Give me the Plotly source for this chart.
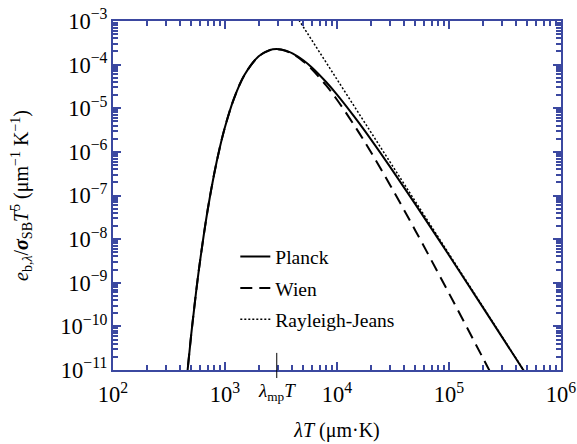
import plotly.graph_objects as go

# lambda*T values (um K) and log10 of normalized emissive power e_b,lambda/(sigma T^5)
planck_x = [450, 500, 550, 600, 700, 800, 900, 1000, 1200, 1500, 2000, 2500, 2898, 3500,
            4000, 5000, 6000, 8000, 10000, 15000, 20000, 30000, 50000, 100000, 200000, 500000]
planck_log = [-11.332, -10.172, -9.243, -8.486, -7.333, -6.507, -5.895, -5.429, -4.784, -4.227,
              -3.810, -3.668, -3.644, -3.679, -3.741, -3.900, -4.071, -4.399, -4.688, -5.268,
              -5.708, -6.355, -7.198, -8.370, -9.558, -11.141]

wien_x = [450, 500, 550, 600, 700, 800, 900, 1000, 1200, 1500, 2000, 2500, 2898, 3500,
          4000, 5000, 6000, 8000, 10000, 15000, 20000, 30000, 50000, 100000, 200000, 300000]
wien_log = [-11.332, -10.172, -9.243, -8.486, -7.333, -6.507, -5.895, -5.429, -4.784, -4.227,
            -3.810, -3.670, -3.647, -3.686, -3.753, -3.925, -4.113, -4.477, -4.805, -5.478,
            -5.998, -6.774, -7.800, -9.243, -10.717, -11.587]

rj_x = [4000, 10000, 100000, 1000000]
rj_log = [-2.747, -4.339, -8.339, -12.339]

lambda_mp_T = 2898

planck_y = [10 ** v for v in planck_log]
wien_y = [10 ** v for v in wien_log]
rj_y = [10 ** v for v in rj_log]

AX = "#3b48a0"
FONT = "Liberation Serif, Times New Roman, serif"

fig = go.Figure()
fig.add_trace(go.Scatter(x=planck_x, y=planck_y, mode="lines", name="Planck",
                         line=dict(color="black", width=2), line_shape="spline",
                         legendgroup="a"))
fig.add_trace(go.Scatter(x=wien_x, y=wien_y, mode="lines", name="Wien",
                         line=dict(color="black", width=2, dash="12px,7px"), line_shape="spline",
                         legendgroup="b"))
fig.add_trace(go.Scatter(x=rj_x, y=rj_y, mode="lines", name="Rayleigh-Jeans",
                         line=dict(color="black", width=1.5, dash="2px,2px"),
                         legendgroup="c"))

axis_common = dict(
    type="log", showline=True, linecolor=AX, linewidth=2, mirror="ticks",
    ticks="inside", ticklen=8, tickwidth=2, tickcolor=AX, automargin=False,
    showgrid=False, zeroline=False, exponentformat="power",
    tickfont=dict(family=FONT, size=18, color="black"),
    minor=dict(ticks="inside", ticklen=5, tickwidth=2, tickcolor=AX, showgrid=False),
)

fig.update_xaxes(range=[2, 6], dtick=1, ticklabelstandoff=4, **axis_common,
                 title=dict(text="<i>λT</i> (μm·K)", font=dict(family=FONT, size=20, color="black"),
                            standoff=17))
fig.update_yaxes(range=[-11, -3], dtick=1, **axis_common,
                 title=dict(text="<i>e</i><sub>b,<i>λ</i></sub>/<b><i>σ</i></b><sub>SB</sub><i>T</i><sup>5</sup> (μm<sup>−1</sup> K<sup>−1</sup>)",
                            font=dict(family=FONT, size=20, color="black"), standoff=26))

fig.add_shape(type="line", xref="x", yref="paper", x0=lambda_mp_T, x1=lambda_mp_T,
              y0=0.049, y1=-0.023, line=dict(color="black", width=1))
fig.add_annotation(x=3.462, y=0, xref="x", yref="paper", yanchor="top", yshift=-8,
                   text="<i>λ</i><sub>mp</sub><i>T</i>", showarrow=False,
                   font=dict(family=FONT, size=19, color="black"))

fig.update_layout(
    width=577, height=444,
    margin=dict(l=113, r=16, t=21, b=74),
    paper_bgcolor="white", plot_bgcolor="white",
    font=dict(family=FONT, size=18, color="black"),
    showlegend=True,
    legend=dict(x=0.273, y=0.38, xanchor="left", yanchor="top",
                bgcolor="rgba(0,0,0,0)", traceorder="grouped", tracegroupgap=3,
                font=dict(family=FONT, size=19.5, color="black")),
)

fig.write_html("out.html")
